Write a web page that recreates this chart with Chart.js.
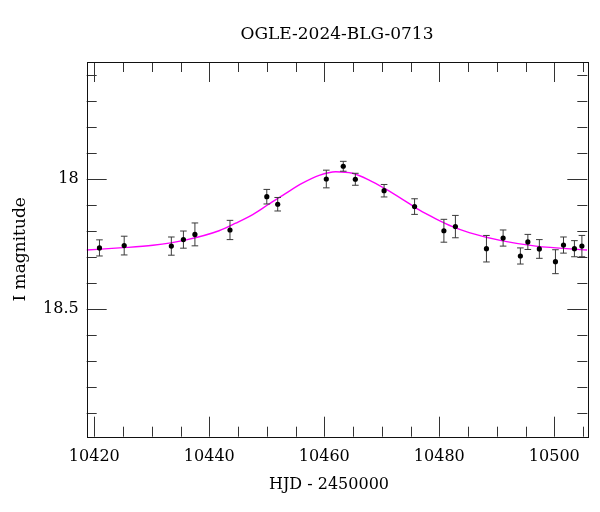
<!DOCTYPE html>
<html>
<head>
<meta charset="utf-8">
<script src="https://cdn.jsdelivr.net/npm/chart.js@4"></script>
<style>
  html, body { margin: 0; padding: 0; background: #fff; }
  #wrap { width: 600px; height: 512px; }
</style>
</head>
<body>
<div id="wrap"><canvas id="lc" width="600" height="512"></canvas></div>
<script>
// OGLE photometry (HJD - 2450000, I mag, error)
let hjd = [10420.9, 10425.2, 10433.4, 10435.5, 10437.5, 10443.6, 10450.0, 10451.9,
           10460.35, 10463.3, 10465.4, 10470.4, 10475.7, 10480.8, 10482.8, 10488.2,
           10491.1, 10494.1, 10495.4, 10497.4, 10500.2, 10501.6, 10503.5, 10504.8]
let mag = [18.264, 18.255, 18.257, 18.232, 18.212, 18.195, 18.067, 18.096,
           17.999, 17.950, 18.000, 18.044, 18.105, 18.198, 18.182, 18.267,
           18.226, 18.295, 18.241, 18.268, 18.317, 18.253, 18.267, 18.257]
let magErr = [0.031, 0.036, 0.035, 0.033, 0.044, 0.037, 0.028, 0.026,
              0.034, 0.019, 0.023, 0.024, 0.030, 0.044, 0.043, 0.051,
              0.031, 0.031, 0.029, 0.036, 0.046, 0.031, 0.031, 0.041]

// model curve
let modelHjd = [10418.6, 10424.35, 10430.2, 10436.0, 10441.7, 10444.6, 10447.55, 10450.4,
                10453.3, 10456.2, 10459.1, 10462.0, 10464.9, 10467.8, 10470.7, 10473.6,
                10476.5, 10479.4, 10482.3, 10485.2, 10491.0, 10496.8, 10505.7]
let modelMag = [18.272, 18.264, 18.254, 18.233, 18.198, 18.169, 18.136, 18.095,
                18.054, 18.015, 17.985, 17.971, 17.977, 18.003, 18.038, 18.077,
                18.118, 18.152, 18.182, 18.205, 18.237, 18.257, 18.272]

let xTickLabels = [10420, 10440, 10460, 10480, 10500]
let yTickLabels = [18, 18.5]

const serif = "'DejaVu Serif', serif"

let pts = hjd.map((v, i) => ({x: v, y: mag[i]}))
let model = modelHjd.map((v, i) => ({x: v, y: modelMag[i]}))

// error bars under the dots
const errorBars = {
    id: 'errorBars',
    beforeDatasetDraw(chart, args) {
        if (args.index !== 0) return
        const ctx = chart.ctx, xs = chart.scales.x, ys = chart.scales.y
        ctx.save()
        ctx.strokeStyle = '#3a3a3a'
        ctx.lineWidth = 1
        for (let i = 0; i < hjd.length; i++) {
            const px = xs.getPixelForValue(hjd[i])
            const y1 = ys.getPixelForValue(mag[i] - magErr[i])
            const y2 = ys.getPixelForValue(mag[i] + magErr[i])
            ctx.beginPath()
            ctx.moveTo(px, y1); ctx.lineTo(px, y2)
            ctx.moveTo(px - 3.3, y1); ctx.lineTo(px + 3.3, y1)
            ctx.moveTo(px - 3.3, y2); ctx.lineTo(px + 3.3, y2)
            ctx.stroke()
        }
        ctx.restore()
    }
}

// box with inward ticks on all four sides, plus the x axis title
const frame = {
    id: 'frame',
    afterDraw(chart) {
        const ctx = chart.ctx, a = chart.chartArea, xs = chart.scales.x, ys = chart.scales.y
        ctx.save()
        ctx.strokeStyle = '#333'
        ctx.lineWidth = 1
        ctx.beginPath()
        for (let v = 10420; v <= 10505; v += 5) {
            const px = Math.round(xs.getPixelForValue(v)) + 0.5
            const len = v % 20 === 0 ? 20 : 10
            ctx.moveTo(px, a.bottom); ctx.lineTo(px, a.bottom - len)
            ctx.moveTo(px, a.top); ctx.lineTo(px, a.top + len)
        }
        for (let k = 176; k <= 189; k++) {
            const v = k / 10
            const py = Math.round(ys.getPixelForValue(v)) + 0.5
            const len = k % 5 === 0 ? 20 : 10
            ctx.moveTo(a.left, py); ctx.lineTo(a.left + len, py)
            ctx.moveTo(a.right, py); ctx.lineTo(a.right - len, py)
        }
        ctx.stroke()
        ctx.strokeStyle = '#111'
        ctx.strokeRect(Math.round(a.left) + 0.5, Math.round(a.top) + 0.5,
                       Math.round(a.right - a.left), Math.round(a.bottom - a.top))

        ctx.fillStyle = '#000'
        ctx.font = '16px ' + serif
        ctx.textAlign = 'center'
        ctx.textBaseline = 'middle'
        ctx.fillText('HJD - 2450000', 329, 485)
        ctx.restore()
    }
}

let lcChart = new Chart(
    document.getElementById('lc').getContext('2d'),
    {
        type: 'scatter',
        data: {
            datasets: [{
                label: 'OGLE',
                data: pts,
                pointRadius: 2.6,
                pointBackgroundColor: '#000',
                pointBorderWidth: 0
            }, {
                label: 'model',
                type: 'line',
                data: model,
                borderColor: '#ff00ff',
                borderWidth: 1.4,
                pointRadius: 0,
                fill: false,
                cubicInterpolationMode: 'monotone'
            }]
        },
        options: {
            responsive: false,
            animation: false,
            layout: { padding: { left: 0, right: 12.7, top: 0, bottom: 0 } },
            plugins: {
                legend: { display: false },
                tooltip: { enabled: false },
                title: {
                    display: true,
                    fullSize: false,
                    text: 'OGLE-2024-BLG-0713',
                    color: '#000',
                    font: { family: serif, size: 17, weight: 'normal' },
                    padding: { top: 24, bottom: 17.6 }
                }
            },
            scales: {
                x: {
                    type: 'linear',
                    min: 10418.68,
                    max: 10505.74,
                    grid: { display: false, drawTicks: false },
                    border: { display: false },
                    afterBuildTicks: (s) => { s.ticks = xTickLabels.map(v => ({value: v})) },
                    afterFit: (s) => { s.height = 75.3 },
                    ticks: {
                        color: '#000',
                        padding: 11,
                        maxRotation: 0,
                        font: { family: serif, size: 16 },
                        callback: (v) => String(v)
                    }
                },
                y: {
                    type: 'linear',
                    reverse: true,
                    min: 17.549,
                    max: 18.99,
                    grid: { display: false, drawTicks: false },
                    border: { display: false },
                    afterBuildTicks: (s) => { s.ticks = yTickLabels.map(v => ({value: v})) },
                    afterFit: (s) => { s.width = 86.7 },
                    ticks: {
                        color: '#000',
                        padding: 8,
                        font: { family: serif, size: 16 },
                        callback: (v) => String(v)
                    },
                    title: {
                        display: true,
                        text: 'I magnitude',
                        color: '#000',
                        font: { family: serif, size: 17 },
                        padding: { top: 10.5, bottom: 0 }
                    }
                }
            }
        },
        plugins: [errorBars, frame]
    }
)
</script>
</body>
</html>
